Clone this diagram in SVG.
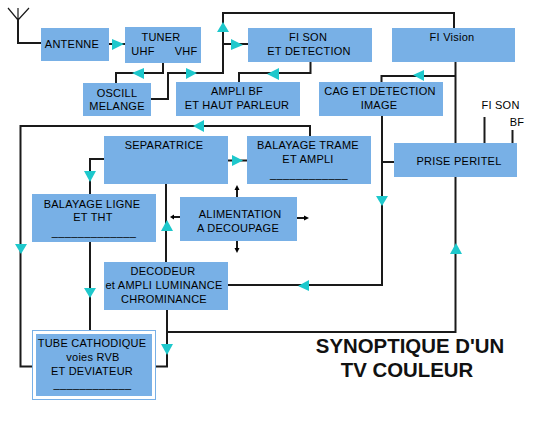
<svg xmlns="http://www.w3.org/2000/svg" width="547" height="422" viewBox="0 0 547 422">
<style>
.b{fill:#78b0e6}
.t{font-family:"Liberation Sans",Arial,sans-serif;font-size:11px;fill:#000;text-anchor:middle;letter-spacing:.25px}
.u{letter-spacing:.4px}
.h{font-family:"Liberation Sans",Arial,sans-serif;font-size:20.400px;font-weight:bold;fill:#111;text-anchor:middle}
.c path{fill:none;stroke:#1a1a1a;stroke-width:2}
.c .thin{stroke-width:1.2}
.a polygon{fill:#1ec8cc}
.k polygon{fill:#000}
</style>
<rect width="547" height="422" fill="#fff"/>
<g id="connectors" class="c">
<path class="thin" d="M8 8L18 20L29 8M18 8V20"/>
<path d="M18 20V43H41"/>
<path d="M109 44H125"/>
<path d="M163 63V73H116V83"/>
<path d="M151 99H168V73H223V13H454V28"/>
<path d="M223 44H248"/>
<path d="M310.500 62V73H239V82"/>
<path d="M455.500 62V143"/>
<path d="M455.500 76H381.500V82"/>
<path d="M382 116V285H228"/>
<path d="M382 162H394"/>
<path d="M484.500 143V117"/>
<path d="M512.500 143V130"/>
<path d="M455.500 177V332H168"/>
<path d="M310 136V126H20.500V366.500H32"/>
<path d="M228 160.500H247"/>
<path d="M104 159H90V194"/>
<path d="M90 242V330"/>
<path d="M166 184V262"/>
<path d="M167 310V366.500H156"/>
<path d="M180 217H172"/>
<path d="M237 197V187"/>
<path d="M237 241V251"/>
<path d="M297 218H306"/>
</g>
<g id="arrowheads" class="a">
<polygon points="112,39 112,50 124,44"/>
<polygon points="144,68 132,73 144,79"/>
<polygon points="186,68 186,79 197,73"/>
<polygon points="223,22 217,32 229,32"/>
<polygon points="231,39 231,50 243,45"/>
<polygon points="279,68 267,74 279,80"/>
<polygon points="424,70 413,75 424,81"/>
<polygon points="204,120 193,126 204,132"/>
<polygon points="232,155 232,166 243,160.500"/>
<polygon points="84,171 96,171 90,182"/>
<polygon points="167,220 161,231 173,231"/>
<polygon points="15,244 27,244 21,254"/>
<polygon points="84,288 96,288 90,298"/>
<polygon points="161,344 173,344 167,355"/>
<polygon points="376,196 388,196 382,206"/>
<polygon points="309,280 298,286 309,291"/>
<polygon points="456,243 450,254 462,254"/>
</g>
<g id="power-arrows" class="k">
<polygon points="170,217 174,214.500 174,219.500"/>
<polygon points="237,185 234.500,190 239.500,190"/>
<polygon points="237,253 234.500,248 239.500,248"/>
<polygon points="309,218 304,215.500 304,220.500"/>
</g>
<g id="antenne"><rect class="b" x="41" y="28" width="68" height="33"/><text class="t" x="72" y="48">ANTENNE</text></g>
<g id="tuner"><rect class="b" x="125" y="27" width="76" height="36"/><text class="t" x="161" y="41">TUNER</text><text class="t" x="143" y="55">UHF</text><text class="t" x="186" y="55">VHF</text></g>
<g id="oscill"><rect class="b" x="83" y="83" width="68" height="33"/><text class="t" x="117" y="97">OSCILL</text><text class="t" x="117" y="110">MELANGE</text></g>
<g id="ampli-bf"><rect class="b" x="176" y="82" width="124" height="34"/><text class="t" x="237" y="95">AMPLI BF</text><text class="t" x="237" y="109">ET HAUT PARLEUR</text></g>
<g id="fi-son"><rect class="b" x="248" y="28" width="124" height="34"/><text class="t" x="308" y="41">FI SON</text><text class="t" x="309" y="55">ET DETECTION</text></g>
<g id="fi-vision"><rect class="b" x="392" y="28" width="123" height="34"/><text class="t" x="452" y="41">FI Vision</text></g>
<g id="cag"><rect class="b" x="319" y="82" width="124" height="34"/><text class="t" x="380" y="95">CAG ET DETECTION</text><text class="t" x="379" y="109">IMAGE</text></g>
<g id="prise"><rect class="b" x="394" y="143" width="123" height="34"/><text class="t" x="459" y="165">PRISE PERITEL</text></g>
<g id="labels-peritel"><text class="t" x="500.500" y="109">FI SON</text><text class="t" x="517" y="126">BF</text></g>
<g id="separatrice"><rect class="b" x="104" y="136" width="124" height="48"/><text class="t" x="164" y="149">SEPARATRICE</text></g>
<g id="balayage-trame"><rect class="b" x="247" y="136" width="124" height="48"/><text class="t" x="308" y="149">BALAYAGE TRAME</text><text class="t" x="308" y="163">ET AMPLI</text><text class="t u" x="309" y="178">____________</text></g>
<g id="balayage-ligne"><rect class="b" x="32" y="194" width="124" height="48"/><text class="t" x="92" y="208">BALAYAGE LIGNE</text><text class="t" x="93" y="221">ET THT</text><text class="t u" x="94" y="236">_____________</text></g>
<g id="alimentation"><rect class="b" x="180" y="197" width="117" height="44"/><text class="t" x="240" y="218">ALIMENTATION</text><text class="t" x="238" y="232">A DECOUPAGE</text></g>
<g id="decodeur"><rect class="b" x="104" y="262" width="124" height="48"/><text class="t" x="163" y="275">DECODEUR</text><text class="t" x="164" y="289">et AMPLI LUMINANCE</text><text class="t" x="164" y="303">CHROMINANCE</text></g>
<g id="tube"><rect x="32.500" y="330.500" width="123" height="69" fill="#fff" stroke="#78b0e6"/><rect class="b" x="36" y="334" width="116" height="62"/><text class="t" x="92" y="347">TUBE CATHODIQUE</text><text class="t" x="93" y="361">voies RVB</text><text class="t" x="92" y="375">ET DEVIATEUR</text><text class="t u" x="92.500" y="388">____________</text></g>
<g id="titre"><text class="h" x="410" y="353">SYNOPTIQUE D'UN</text><text class="h" x="407" y="377">TV COULEUR</text></g>
</svg>
